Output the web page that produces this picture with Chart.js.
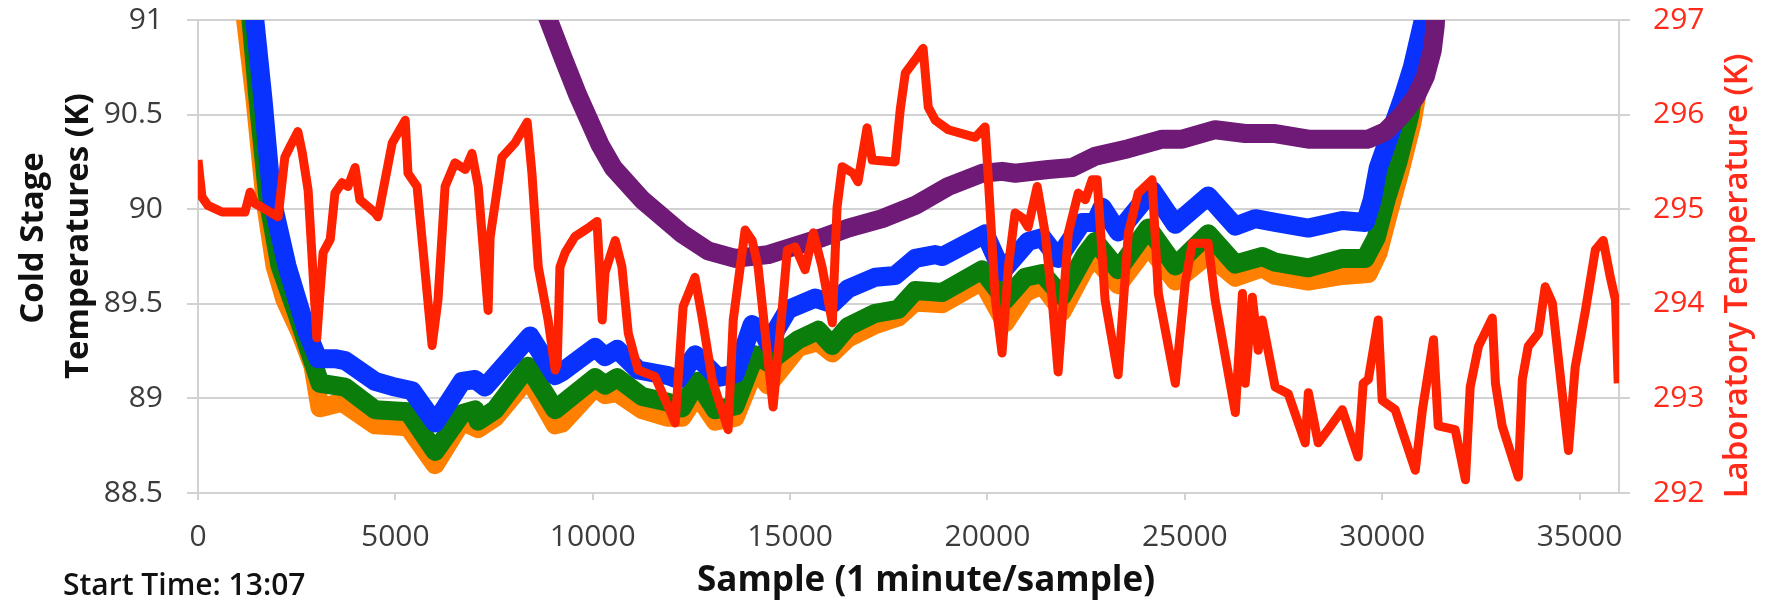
<!DOCTYPE html>
<html>
<head>
<meta charset="utf-8">
<title>Cold stage and laboratory temperatures</title>
<script src="https://cdn.jsdelivr.net/npm/chart.js@4.4.1/dist/chart.umd.min.js"></script>
<style>
  html, body { margin: 0; padding: 0; background: #fff; }
  #wrap { width: 1775px; height: 608px; }
</style>
</head>
<body>
<div id="wrap"><canvas id="chart" width="1775" height="608"></canvas></div>
<script>
// tick values for the three axes
const sampleTicks = [0, 5000, 10000, 15000, 20000, 25000, 30000, 35000];
const coldTicks = [88.5, 89, 89.5, 90, 90.5, 91];
const labTicks = [292, 293, 294, 295, 296, 297];

// [sample, temperature K]
const coldOrange = [
    [1150, 91.1], [1444, 90.58], [1698, 90.05], [1951, 89.70], [2205, 89.52], [2585, 89.35],
    [2914, 89.17], [3091, 88.95], [3649, 88.98], [4485, 88.86], [5321, 88.85], [6006, 88.65],
    [6690, 88.88], [7095, 88.84], [7526, 88.90], [8362, 89.11], [9046, 88.86], [9224, 88.87],
    [10060, 89.06], [10313, 89.02], [10618, 89.03], [11251, 88.94], [11910, 88.90], [12265, 88.90],
    [12645, 89.02], [13101, 88.88], [13608, 88.90], [14114, 89.16], [14444, 89.07], [15204, 89.27],
    [15711, 89.30], [16066, 89.24], [16471, 89.32], [17155, 89.39], [17738, 89.43], [18169, 89.51],
    [18853, 89.50], [19867, 89.62], [20449, 89.40], [20956, 89.56], [21387, 89.60], [21894, 89.46],
    [22477, 89.69], [22730, 89.74], [23313, 89.60], [24073, 89.81], [24757, 89.62], [25593, 89.76],
    [26278, 89.64], [26962, 89.69], [27291, 89.65], [28127, 89.62], [28989, 89.65], [29648, 89.66],
    [29900, 89.77], [30150, 89.97], [30450, 90.20], [30750, 90.45], [31000, 90.75], [31200, 91.1]
];
const coldGreen = [
    [1300, 91.1], [1520, 90.58], [1774, 90.05], [2078, 89.70], [2534, 89.43], [3091, 89.08],
    [3725, 89.06], [4485, 88.94], [5321, 88.93], [6006, 88.72], [6690, 88.92], [7019, 88.94],
    [7095, 88.88], [7526, 88.94], [8362, 89.17], [9046, 88.94], [10060, 89.11], [10313, 89.07],
    [10618, 89.11], [11251, 89.01], [11910, 88.98], [12265, 88.95], [12645, 89.09], [13101, 88.94],
    [13608, 88.96], [14114, 89.23], [14444, 89.19], [15204, 89.31], [15711, 89.36], [16066, 89.28],
    [16471, 89.38], [17155, 89.45], [17738, 89.47], [18169, 89.57], [18853, 89.56], [19867, 89.68],
    [20449, 89.52], [20956, 89.64], [21387, 89.66], [21894, 89.54], [22477, 89.76], [22730, 89.83],
    [23313, 89.68], [24073, 89.90], [24757, 89.70], [25593, 89.87], [26278, 89.71], [26962, 89.75],
    [27291, 89.72], [28127, 89.69], [28989, 89.74], [29572, 89.74], [29850, 89.85], [30100, 90.05],
    [30400, 90.25], [30700, 90.50], [30950, 90.80], [31150, 91.1]
];
const coldBlue = [
    [1390, 91.1], [1647, 90.58], [1875, 90.05], [2255, 89.70], [2762, 89.35], [3041, 89.21],
    [3471, 89.21], [3725, 89.20], [4485, 89.09], [4992, 89.06], [5423, 89.04], [6006, 88.87],
    [6690, 89.09], [7019, 89.10], [7273, 89.06], [7526, 89.12], [8413, 89.33], [9046, 89.12],
    [9224, 89.14], [10060, 89.27], [10313, 89.22], [10618, 89.26], [11150, 89.15], [11910, 89.12],
    [12163, 89.10], [12594, 89.23], [13177, 89.11], [13608, 89.13], [14038, 89.39], [14317, 89.35],
    [14444, 89.29], [14951, 89.47], [15635, 89.53], [16066, 89.50], [16471, 89.58], [17155, 89.64],
    [17662, 89.65], [18169, 89.74], [18676, 89.76], [18853, 89.75], [19943, 89.87], [20373, 89.67],
    [21032, 89.83], [21387, 89.85], [21792, 89.74], [22401, 89.93], [22730, 89.93], [22907, 90.01],
    [23313, 89.88], [24174, 90.10], [24757, 89.92], [25593, 90.07], [26278, 89.91], [26784, 89.95],
    [27291, 89.93], [28127, 89.90], [28989, 89.94], [29572, 89.93], [29749, 90.05], [29901, 90.22],
    [30205, 90.40], [30509, 90.58], [30763, 90.75], [30965, 90.93], [31150, 91.1]
];
const coldPurple = [
    [8780, 91.1], [8844, 91.02], [9249, 90.80], [9629, 90.60], [10187, 90.34], [10516, 90.22],
    [11251, 90.05], [12264, 89.87], [12923, 89.78], [13608, 89.74], [14444, 89.76], [15052, 89.80],
    [15812, 89.85], [16471, 89.90], [17333, 89.95], [18169, 90.02], [19005, 90.12], [19867, 90.19],
    [20373, 90.20], [20702, 90.19], [21539, 90.21], [22147, 90.22], [22730, 90.28], [23566, 90.32],
    [24428, 90.37], [24935, 90.37], [25771, 90.42], [26531, 90.40], [27291, 90.40], [28127, 90.37],
    [28989, 90.37], [29648, 90.37], [30078, 90.41], [30509, 90.50], [30839, 90.59], [31092, 90.70],
    [31270, 90.84], [31345, 90.97], [31370, 91.1]
];
const labTemp = [
    [0, 295.52], [100, 295.13], [250, 295.04], [610, 294.97], [1190, 294.97], [1320, 295.18],
    [1440, 295.06], [1620, 295.02], [2030, 294.92], [2200, 295.55], [2330, 295.66], [2530, 295.82],
    [2640, 295.60], [2790, 295.20], [3010, 293.64], [3090, 294.11], [3170, 294.54], [3350, 294.68],
    [3470, 295.17], [3650, 295.28], [3800, 295.24], [3980, 295.44], [4100, 295.10], [4490, 294.96],
    [4560, 294.92], [4740, 295.31], [4920, 295.70], [5250, 295.94], [5320, 295.38], [5550, 295.24],
    [5930, 293.56], [6080, 294.04], [6260, 295.24], [6510, 295.49], [6770, 295.42], [6940, 295.59],
    [7100, 295.24], [7350, 293.93], [7400, 294.70], [7700, 295.55], [8030, 295.70], [8340, 295.92],
    [8460, 295.38], [8620, 294.39], [8870, 293.83], [9050, 293.30], [9100, 293.36], [9170, 294.39],
    [9300, 294.54], [9550, 294.71], [9880, 294.80], [10110, 294.87], [10240, 293.83], [10310, 294.33],
    [10570, 294.67], [10740, 294.39], [10900, 293.69], [11150, 293.30], [11580, 293.23], [12090, 292.74],
    [12290, 293.97], [12590, 294.28], [12770, 293.86], [13030, 293.19], [13430, 292.67], [13560, 293.83],
    [13860, 294.78], [14040, 294.67], [14190, 294.39], [14570, 292.91], [14800, 293.94], [14930, 294.57],
    [15130, 294.60], [15380, 294.36], [15590, 294.75], [15810, 294.39], [16070, 293.80], [16190, 295.02],
    [16320, 295.45], [16600, 295.38], [16720, 295.29], [16950, 295.86], [17080, 295.52], [17660, 295.50],
    [17790, 296.05], [17920, 296.44], [18170, 296.58], [18370, 296.70], [18500, 296.08], [18680, 295.94],
    [19010, 295.84], [19690, 295.76], [19940, 295.87], [19990, 295.55], [20200, 294.04], [20370, 293.48],
    [20530, 294.39], [20700, 294.96], [20880, 294.91], [21030, 294.81], [21260, 295.24], [21460, 294.75],
    [21640, 294.04], [21790, 293.28], [22050, 294.75], [22300, 295.17], [22480, 295.10], [22650, 295.31],
    [22780, 295.31], [22980, 294.04], [23310, 293.25], [23570, 294.75], [23820, 295.17], [24170, 295.31],
    [24330, 294.11], [24760, 293.16], [25010, 294.22], [25190, 294.64], [25590, 294.64], [25770, 294.04],
    [26280, 292.85], [26460, 294.11], [26530, 293.16], [26710, 294.07], [26860, 293.51], [26960, 293.83],
    [27290, 293.12], [27620, 293.05], [28050, 292.53], [28130, 293.06], [28380, 292.53], [28630, 292.67],
    [28990, 292.88], [29390, 292.38], [29520, 293.16], [29650, 293.20], [29900, 293.83], [30000, 292.98],
    [30330, 292.88], [30840, 292.24], [31020, 292.88], [31300, 293.62], [31420, 292.71], [31850, 292.67],
    [32110, 292.14], [32230, 293.12], [32440, 293.55], [32790, 293.85], [32870, 293.16], [33040, 292.71],
    [33450, 292.17], [33550, 293.20], [33700, 293.55], [33960, 293.69], [34130, 294.18], [34310, 294.01],
    [34460, 293.44], [34720, 292.45], [34890, 293.33], [35150, 293.93], [35400, 294.57], [35600, 294.67],
    [35780, 294.28], [35910, 294.04], [35980, 293.16]
];

const FONT = "'Open Sans', sans-serif";
const GRID = '#d2d2d2';
const TICK_TEXT = '#3c3c3c';
const LAB_RED = '#ff2a1a';

function series(label, pairs, color, width, axis) {
    return {
        label: label,
        data: pairs.map(p => ({ x: p[0], y: p[1] })),
        borderColor: color,
        backgroundColor: color,
        borderWidth: width,
        borderJoinStyle: 'round',
        pointRadius: 0,
        tension: 0,
        yAxisID: axis
    };
}

// fixed axis box sizes so the plot area lands where the original one is
function fixWidth(w) {
    return s => {
        s.width = w;
        s.paddingTop = 0;
        s.paddingBottom = 0;
    };
}

// axis titles and the start-time note
const chartText = {
    id: 'chartText',
    afterDraw(chart) {
        const ctx = chart.ctx;
        const upright = (text, x, y) => {
            ctx.save();
            ctx.translate(x, y);
            ctx.rotate(-Math.PI / 2);
            ctx.fillText(text, 0, 0);
            ctx.restore();
        };
        ctx.save();
        ctx.textAlign = 'center';
        ctx.textBaseline = 'alphabetic';

        ctx.fillStyle = '#111';
        ctx.font = 'bold 33px ' + FONT;
        upright('Cold Stage', 43, 238);
        upright('Temperatures (K)', 88, 236);

        ctx.fillStyle = LAB_RED;
        ctx.font = '600 33px ' + FONT;
        upright('Laboratory Temperature (K)', 1747, 276);

        ctx.fillStyle = '#111';
        ctx.font = 'bold 35px ' + FONT;
        ctx.fillText('Sample (1 minute/sample)', 926, 591);

        ctx.textAlign = 'left';
        ctx.font = '600 30px ' + FONT;
        ctx.fillText('Start Time: 13:07', 63, 595);
        ctx.restore();
    }
};

new Chart(document.getElementById('chart'), {
    type: 'line',
    data: {
        datasets: [
            series('Laboratory', labTemp, '#ff2200', 9, 'y1'),
            series('Stage 4', coldPurple, '#6e1a76', 19, 'y'),
            series('Stage 3', coldBlue, '#0a32ff', 19, 'y'),
            series('Stage 2', coldGreen, '#0a7d0a', 19, 'y'),
            series('Stage 1', coldOrange, '#ff7f00', 19, 'y')
        ]
    },
    options: {
        responsive: false,
        animation: false,
        layout: { padding: { top: 20, left: 0, right: 0, bottom: 0 } },
        plugins: {
            legend: { display: false },
            tooltip: { enabled: false }
        },
        scales: {
            x: {
                type: 'linear',
                min: 0,
                max: 36000,
                afterBuildTicks: s => { s.ticks = sampleTicks.map(v => ({ value: v })); },
                afterFit: s => { s.height = 115; },
                grid: { drawOnChartArea: false, drawTicks: true, tickLength: 7, color: GRID, lineWidth: 2 },
                border: { display: false },
                ticks: {
                    padding: 19,
                    maxRotation: 0,
                    color: TICK_TEXT,
                    font: { family: FONT, size: 30 },
                    callback: v => String(v)
                }
            },
            y: {
                position: 'left',
                min: 88.5,
                max: 91,
                afterBuildTicks: s => { s.ticks = coldTicks.map(v => ({ value: v })); },
                afterFit: fixWidth(198),
                grid: { color: GRID, lineWidth: 2, tickLength: 11 },
                border: { display: true, color: GRID, width: 2 },
                ticks: {
                    padding: 24,
                    color: TICK_TEXT,
                    font: { family: FONT, size: 30 },
                    callback: v => String(v)
                }
            },
            y1: {
                position: 'right',
                min: 292,
                max: 297,
                afterBuildTicks: s => { s.ticks = labTicks.map(v => ({ value: v })); },
                afterFit: fixWidth(156),
                grid: { drawOnChartArea: false, color: GRID, lineWidth: 2, tickLength: 11 },
                border: { display: true, color: GRID, width: 2 },
                ticks: {
                    padding: 23,
                    color: LAB_RED,
                    font: { family: FONT, size: 30 },
                    callback: v => String(v)
                }
            }
        }
    },
    plugins: [chartText]
});
</script>
</body>
</html>
